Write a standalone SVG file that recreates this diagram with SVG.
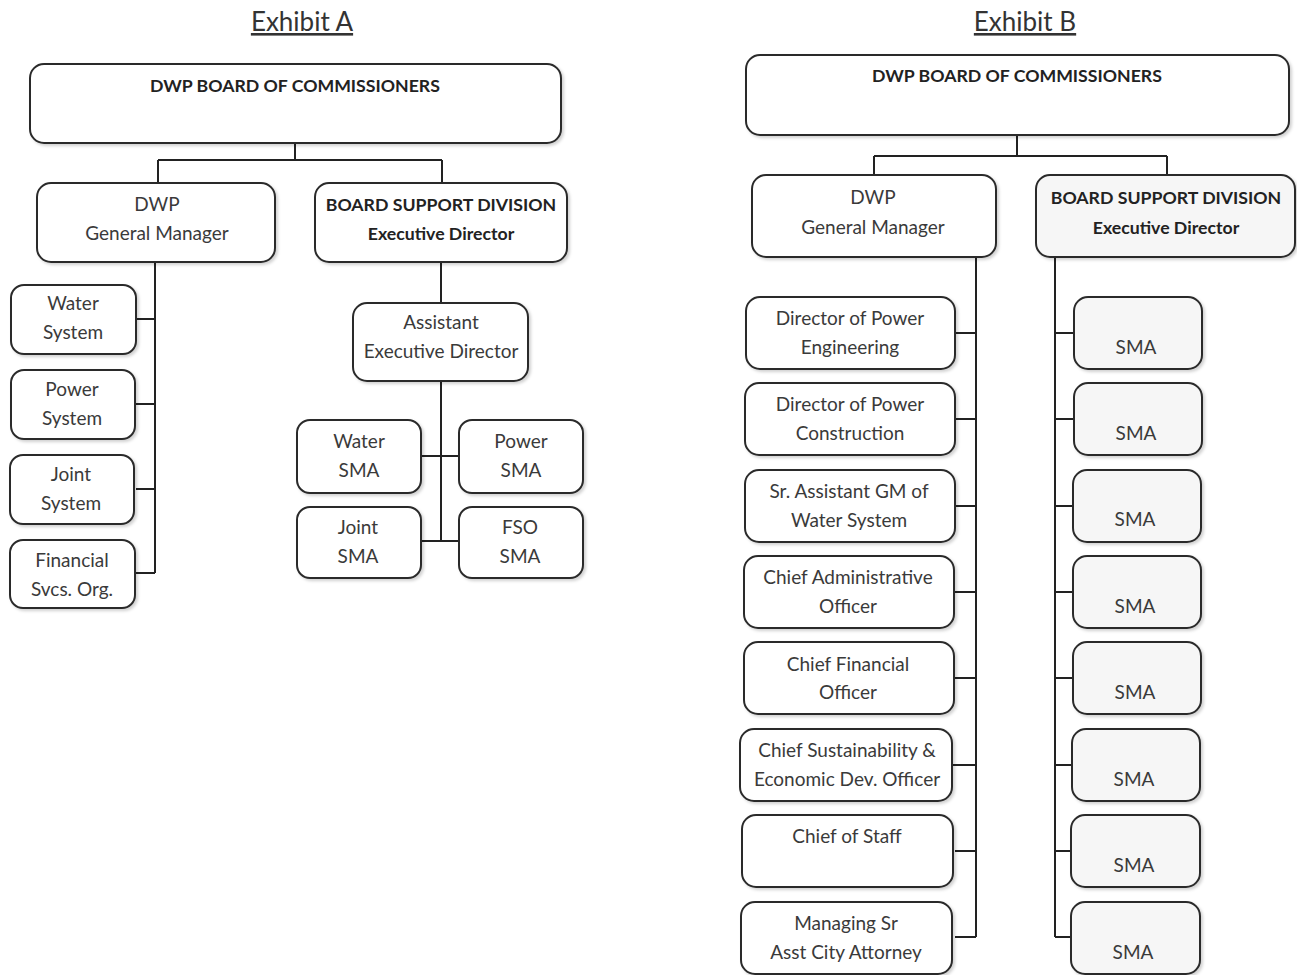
<svg xmlns="http://www.w3.org/2000/svg" width="1297" height="975" viewBox="0 0 1297 975">
<defs>
<filter id="sh" x="-5%" y="-5%" width="115%" height="120%">
<feDropShadow dx="2" dy="2" stdDeviation="1.5" flood-color="#000" flood-opacity="0.18"/>
</filter>
<style>
.bx{fill:#fff;stroke:#2b2b2b;stroke-width:2;filter:url(#sh)}
.gx{fill:#f6f6f6;stroke:#2b2b2b;stroke-width:2;filter:url(#sh)}
.t{font-family:Lato,"Open Sans",sans-serif;font-size:19px;fill:#3a3a3a;text-anchor:middle}
.b{font-family:Lato,"Open Sans",sans-serif;font-size:17.7px;font-weight:bold;fill:#222;text-anchor:middle}
.h{font-family:Lato,"Open Sans",sans-serif;font-size:26px;fill:#333;text-anchor:middle;text-decoration:underline}
.c{fill:none;stroke:#222;stroke-width:2}
</style>
</defs>
<rect width="1297" height="975" fill="#fff"/>
<text class="h" x="302" y="31">Exhibit A</text>
<text class="h" x="1025" y="31">Exhibit B</text>

<g id="connectors">
<path class="c" d="M295 143V160M158 160H442M158 160V183M442 160V183"/>
<path class="c" d="M155 262V573M136 319H155M136 404H155M136 489H155M136 573H155"/>
<path class="c" d="M441 262V303M441 381V541M421 456H459M421 541H459"/>
<path class="c" d="M1017 135V156M874 156H1167M874 156V175M1167 156V175"/>
<path class="c" d="M976 257V937M955 333H976M955 419H976M955 506H976M955 592H976M955 678H976M952 765H976M955 851H976M955 937H976"/>
<path class="c" d="M1055 257V937M1055 333H1074M1055 419H1074M1055 506H1074M1055 592H1074M1055 678H1074M1055 765H1074M1055 851H1074M1055 937H1074"/>
</g>

<g id="a-board"><rect class="bx" x="30" y="64" width="531" height="79" rx="14"/><text class="b" x="295" y="92">DWP BOARD OF COMMISSIONERS</text></g>
<g id="a-gm"><rect class="bx" x="37" y="183" width="238" height="79" rx="14"/><text class="t" x="157" y="211">DWP</text><text class="t" x="157" y="240">General Manager</text></g>
<g id="a-bsd"><rect class="bx" x="315" y="183" width="252" height="79" rx="14"/><text class="b" x="441" y="211">BOARD SUPPORT DIVISION</text><text class="b" x="441" y="240">Executive Director</text></g>
<g id="a-water"><rect class="bx" x="11" y="285" width="125" height="69" rx="13"/><text class="t" x="73" y="310">Water</text><text class="t" x="73" y="339">System</text></g>
<g id="a-power"><rect class="bx" x="11" y="370" width="124" height="69" rx="13"/><text class="t" x="72" y="396">Power</text><text class="t" x="72" y="425">System</text></g>
<g id="a-joint"><rect class="bx" x="10" y="455" width="124" height="69" rx="13"/><text class="t" x="71" y="481">Joint</text><text class="t" x="71" y="510">System</text></g>
<g id="a-fin"><rect class="bx" x="10" y="540" width="125" height="68" rx="13"/><text class="t" x="72" y="567">Financial</text><text class="t" x="72" y="596">Svcs. Org.</text></g>
<g id="a-asst"><rect class="bx" x="353" y="303" width="175" height="78" rx="14"/><text class="t" x="441" y="329">Assistant</text><text class="t" x="441" y="358">Executive Director</text></g>
<g id="a-wsma"><rect class="bx" x="297" y="420" width="124" height="73" rx="13"/><text class="t" x="359" y="448">Water</text><text class="t" x="359" y="477">SMA</text></g>
<g id="a-psma"><rect class="bx" x="459" y="420" width="124" height="73" rx="13"/><text class="t" x="521" y="448">Power</text><text class="t" x="521" y="477">SMA</text></g>
<g id="a-jsma"><rect class="bx" x="297" y="507" width="124" height="71" rx="13"/><text class="t" x="358" y="534">Joint</text><text class="t" x="358" y="563">SMA</text></g>
<g id="a-fsma"><rect class="bx" x="459" y="507" width="124" height="71" rx="13"/><text class="t" x="520" y="534">FSO</text><text class="t" x="520" y="563">SMA</text></g>

<g id="b-board"><rect class="bx" x="746" y="55" width="543" height="80" rx="14"/><text class="b" x="1017" y="82">DWP BOARD OF COMMISSIONERS</text></g>
<g id="b-gm"><rect class="bx" x="752" y="175" width="244" height="82" rx="14"/><text class="t" x="873" y="204">DWP</text><text class="t" x="873" y="234">General Manager</text></g>
<g id="b-bsd"><rect class="gx" x="1036" y="175" width="259" height="82" rx="14"/><text class="b" x="1166" y="204">BOARD SUPPORT DIVISION</text><text class="b" x="1166" y="234">Executive Director</text></g>

<g id="b-l1"><rect class="bx" x="746" y="297" width="209" height="72" rx="14"/><text class="t" x="850" y="325">Director of Power</text><text class="t" x="850" y="354">Engineering</text></g>
<g id="b-l2"><rect class="bx" x="745" y="383" width="210" height="72" rx="14"/><text class="t" x="850" y="411">Director of Power</text><text class="t" x="850" y="440">Construction</text></g>
<g id="b-l3"><rect class="bx" x="745" y="470" width="210" height="72" rx="14"/><text class="t" x="849" y="498">Sr. Assistant GM of</text><text class="t" x="849" y="527">Water System</text></g>
<g id="b-l4"><rect class="bx" x="744" y="556" width="210" height="72" rx="14"/><text class="t" x="848" y="584">Chief Administrative</text><text class="t" x="848" y="613">Officer</text></g>
<g id="b-l5"><rect class="bx" x="744" y="642" width="210" height="72" rx="14"/><text class="t" x="848" y="671">Chief Financial</text><text class="t" x="848" y="699">Officer</text></g>
<g id="b-l6"><rect class="bx" x="740" y="729" width="212" height="72" rx="14"/><text class="t" x="847" y="757">Chief Sustainability &amp;</text><text class="t" x="847" y="786">Economic Dev. Officer</text></g>
<g id="b-l7"><rect class="bx" x="742" y="815" width="211" height="72" rx="14"/><text class="t" x="847" y="843">Chief of Staff</text></g>
<g id="b-l8"><rect class="bx" x="741" y="902" width="211" height="72" rx="14"/><text class="t" x="846" y="930">Managing Sr</text><text class="t" x="846" y="959">Asst City Attorney</text></g>

<g id="b-s1"><rect class="gx" x="1074" y="297" width="128" height="72" rx="14"/><text class="t" x="1136" y="354">SMA</text></g>
<g id="b-s2"><rect class="gx" x="1074" y="383" width="128" height="72" rx="14"/><text class="t" x="1136" y="440">SMA</text></g>
<g id="b-s3"><rect class="gx" x="1073" y="470" width="128" height="72" rx="14"/><text class="t" x="1135" y="526">SMA</text></g>
<g id="b-s4"><rect class="gx" x="1073" y="556" width="128" height="72" rx="14"/><text class="t" x="1135" y="613">SMA</text></g>
<g id="b-s5"><rect class="gx" x="1073" y="642" width="128" height="72" rx="14"/><text class="t" x="1135" y="699">SMA</text></g>
<g id="b-s6"><rect class="gx" x="1072" y="729" width="128" height="72" rx="14"/><text class="t" x="1134" y="786">SMA</text></g>
<g id="b-s7"><rect class="gx" x="1071" y="815" width="129" height="72" rx="14"/><text class="t" x="1134" y="872">SMA</text></g>
<g id="b-s8"><rect class="gx" x="1071" y="902" width="129" height="72" rx="14"/><text class="t" x="1133" y="959">SMA</text></g>
</svg>
